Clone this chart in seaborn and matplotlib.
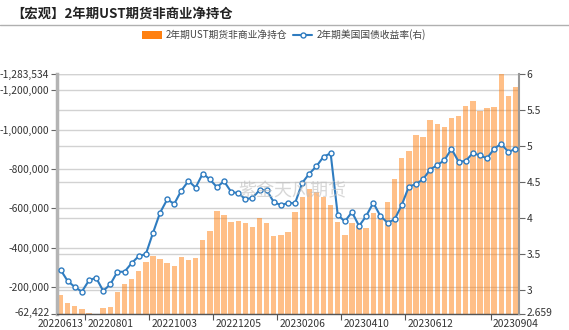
import numpy as np
import pandas as pd
import matplotlib
matplotlib.use("Agg")
import matplotlib.pyplot as plt
import matplotlib.ticker as mticker
import matplotlib.transforms as mtransforms
from matplotlib.lines import Line2D
from matplotlib.patches import Patch
import seaborn as sns

# Weekly report dates
dates = [
    "20220613", "20220620", "20220627", "20220704", "20220711", "20220718", "20220725",
    "20220801", "20220808", "20220815", "20220822", "20220829", "20220905", "20220912",
    "20220919", "20220926", "20221003", "20221010", "20221017", "20221024", "20221031",
    "20221107", "20221114", "20221121", "20221128", "20221205", "20221212", "20221219",
    "20221226", "20230102", "20230109", "20230116", "20230123", "20230130", "20230206",
    "20230213", "20230220", "20230227", "20230306", "20230313", "20230320", "20230327",
    "20230403", "20230410", "20230417", "20230424", "20230501", "20230508", "20230515",
    "20230522", "20230529", "20230605", "20230612", "20230619", "20230626", "20230703",
    "20230710", "20230717", "20230724", "20230731", "20230807", "20230814", "20230821",
    "20230828", "20230904",
]

# 2-year UST futures, non-commercial net position (contracts)
net_position = [
    -159000, -118400, -101600, -87900, -67500, -62422, -91400, -99700, -172800, -213500,
    -240500, -282700, -327000, -359000, -342300, -320400, -306600, -353900, -337200, -348900,
    -438900, -483000, -586500, -567800, -528800, -535600, -523700, -505100, -552500, -523700,
    -457600, -464400, -479600, -579700, -659400, -696700, -684900, -657700, -618700, -532200,
    -464400, -525400, -511800, -498300, -576300, -547500, -634000, -751000, -854400, -890000,
    -971400, -961400, -1047800, -1027400, -1013900, -1059600, -1071500, -1119000, -1146100, -1097000,
    -1110500, -1117300, -1283534, -1169900, -1217400,
]

# 2-year US Treasury yield (%)
yield_2y = [
    3.275, 3.118, 3.035, 2.970, 3.127, 3.164, 2.980, 3.072, 3.247, 3.247,
    3.367, 3.464, 3.492, 3.787, 4.069, 4.253, 4.193, 4.378, 4.512, 4.419,
    4.613, 4.535, 4.424, 4.507, 4.359, 4.341, 4.258, 4.276, 4.383, 4.383,
    4.216, 4.175, 4.203, 4.203, 4.484, 4.613, 4.715, 4.849, 4.895, 4.036,
    3.949, 4.078, 3.884, 4.023, 4.207, 4.023, 3.930, 3.976, 4.175, 4.433,
    4.466, 4.535, 4.669, 4.733, 4.798, 4.959, 4.779, 4.789, 4.899, 4.867,
    4.826, 4.959, 5.029, 4.913, 4.959,
]

left_ticks = [-62422, -200000, -400000, -600000, -800000, -1000000, -1200000, -1283534]
right_ticks = [2.659, 3, 3.5, 4, 4.5, 5, 5.5, 6]
label_idx = [0, 7, 16, 25, 34, 43, 52, 64]
tick_marks = [3.5, 12.5, 21.5, 30.5, 39.5, 48.5, 60.5]

bar_label = "2年期UST期货非商业净持仓"
line_label = "2年期美国国债收益率(右)"
title = "【宏观】2年期UST期货非商业净持仓"

sns.set_theme(style="white")
plt.rcParams["font.family"] = ["Noto Sans CJK SC", "DejaVu Sans"]

bar_color = "#ff8010"
line_color = "#2f7cc0"
grid_color = "#d2d2d2"
text_color = "#333333"

df = pd.DataFrame({"date": dates, "net": net_position, "yield": yield_2y})
df["pos"] = np.arange(len(df))

W, H = 569, 330
fig = plt.figure(figsize=(W / 100, H / 100), dpi=100)
ax = fig.add_axes([57 / W, 1 - 314 / H, (519 - 57) / W, (314 - 74) / H])

sns.barplot(data=df, x="date", y="net", ax=ax, color=bar_color, saturation=1,
            alpha=0.5, width=0.76, errorbar=None, linewidth=0, zorder=2)

twin = ax.twinx()
sns.lineplot(data=df, x="pos", y="yield", ax=twin, color=line_color, lw=1.5,
             marker="o", markersize=3.6, markerfacecolor="white",
             markeredgecolor=line_color, markeredgewidth=1.0, zorder=5)

# Axis ranges (left axis runs upward toward larger net short)
ax.set_xlim(-0.5, len(dates) - 0.5)
ax.set_ylim(left_ticks[0], left_ticks[-1])
twin.set_ylim(right_ticks[0], right_ticks[-1])

ax.set_yticks(left_ticks)
ax.yaxis.set_major_formatter(mticker.FuncFormatter(lambda v, p: f"{int(round(v)):,}"))
twin.set_yticks(right_ticks)
twin.set_yticklabels([f"{t:g}" for t in right_ticks])

ax.set_xticks(label_idx)
ax.set_xticklabels([dates[i] for i in label_idx])
ax.set_xticks(tick_marks, minor=True)

ax.set_xlabel("")
ax.set_ylabel("")
twin.set_xlabel("")
twin.set_ylabel("")

# Horizontal grid lines for both axes, kept behind the bars
ax.set_axisbelow(True)
ax.grid(axis="y", color=grid_color, lw=1.0, zorder=0)
ax.grid(axis="x", visible=False)
twin.grid(False)
blend = mtransforms.blended_transform_factory(ax.transAxes, twin.transData)
for t in right_ticks[1:]:
    ax.add_artist(Line2D([0, 1], [t, t], transform=blend, color=grid_color, lw=1.0, zorder=0.5))

# Spines
for a in (ax, twin):
    a.spines["top"].set_visible(False)
ax.spines["right"].set_visible(False)
ax.spines["left"].set_color("#b4b4b4")
ax.spines["left"].set_linewidth(2.5)
ax.spines["bottom"].set_color("#555555")
ax.spines["bottom"].set_linewidth(1.0)
twin.spines["left"].set_visible(False)
twin.spines["bottom"].set_visible(False)
twin.spines["right"].set_color("#999999")
twin.spines["right"].set_linewidth(1.5)

ax.tick_params(axis="y", which="major", left=True, length=4, width=0.8, color="#666666",
               labelsize=7.4, labelcolor=text_color, pad=1.5)
twin.tick_params(axis="y", which="major", right=True, length=4, width=0.8, color="#666666",
                 labelsize=7.4, labelcolor=text_color, pad=1.5)
ax.tick_params(axis="x", which="major", bottom=False, length=0, labelsize=7.4,
               labelcolor=text_color, pad=3.5)
ax.tick_params(axis="x", which="minor", bottom=True, length=4, width=0.8, color="#555555")

# Lift the bottom-most value labels slightly above the axis line
fig.canvas.draw()
ax.get_yticklabels()[0].set_transform(
    ax.get_yticklabels()[0].get_transform()
    + mtransforms.ScaledTranslation(0, 2.5 / 100, fig.dpi_scale_trans))
twin.get_yticklabels()[0].set_transform(
    twin.get_yticklabels()[0].get_transform()
    + mtransforms.ScaledTranslation(0, 1.5 / 100, fig.dpi_scale_trans))

# Title and separator
fig.text(11 / W, 1 - 14 / H, title, fontsize=9.6, fontweight="bold", color="#222222",
         ha="left", va="center")
fig.add_artist(Line2D([0, 1], [1 - 25 / H, 1 - 25 / H], transform=fig.transFigure,
                      color="#b0b0b0", lw=1.0))

# Legend
handles = [
    Patch(facecolor=bar_color, edgecolor="none"),
    Line2D([0], [0], color=line_color, lw=1.5, marker="o", markersize=3.6,
           markerfacecolor="white", markeredgecolor=line_color, markeredgewidth=1.0),
]
fig.legend(handles, [bar_label, line_label], loc="center", ncol=2,
           bbox_to_anchor=(284 / W, 1 - 35 / H), frameon=False, fontsize=7.0,
           labelcolor="#444444", handlelength=2.0, handleheight=1.0,
           handletextpad=0.4, columnspacing=0.6)

# Watermark
fig.text(292 / W, 1 - 191 / H, "紫金天风期货", fontsize=13, color="#bdbdbd", alpha=0.6,
         ha="center", va="center")

fig.savefig("out.png", dpi=100)
